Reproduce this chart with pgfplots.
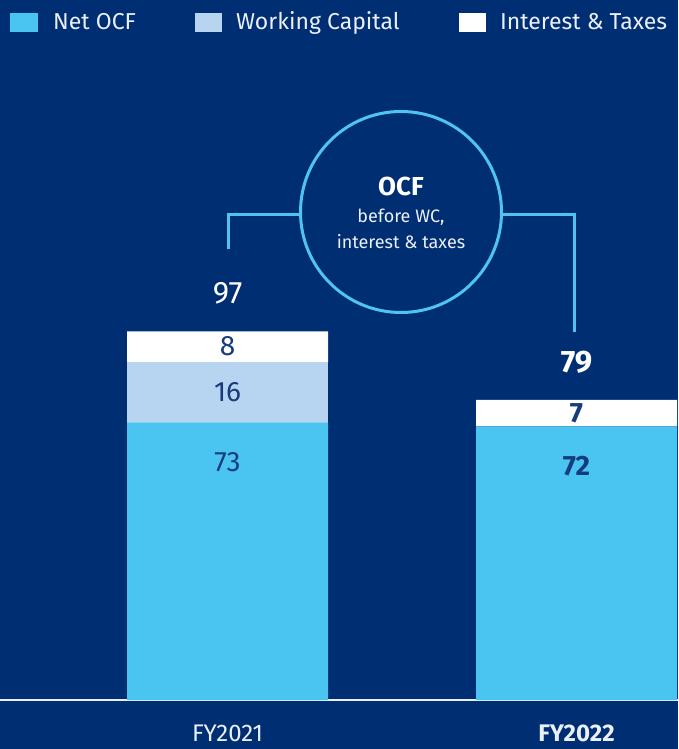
\documentclass[border=0pt]{standalone}
\usepackage{pgfplots}
\pgfplotsset{compat=1.18}
\usepackage{fontspec}
\setmainfont{Fira Sans}

\definecolor{bg}{RGB}{0,46,114}
\definecolor{netocf}{RGB}{74,196,241}
\definecolor{wc}{RGB}{183,213,240}
\definecolor{lab}{RGB}{22,60,125}
\definecolor{circ}{RGB}{80,196,240}
\definecolor{textwhite}{RGB}{235,240,248}

\newcommand\fs[1]{\fontsize{#1}{#1}\selectfont}
\protected\def\B#1{{\bfseries #1}}

\begin{document}
\begin{tikzpicture}[x=1pt,y=1pt]
\fill[bg] (0,-49) rectangle (678,700);
\path[use as bounding box] (0,-49) rectangle (678,700);

\begin{axis}[
    at={(0,0)}, anchor=south west,
    scale only axis, width=678pt, height=700pt,
    ybar stacked, bar width=0.576,
    xmin=-0.652, xmax=1.2908,
    ymin=0, ymax=184.21,
    axis x line=bottom, axis y line=none,
    x axis line style={-, draw=textwhite, line width=2pt},
    xtick={0,1}, xticklabels={FY2021,\textbf{FY2022}},
    major tick length=0pt,
    xticklabel style={anchor=base, inner sep=0pt, yshift=-41pt, font=\fs{24}, text=textwhite},
    point meta=explicit symbolic,
    visualization depends on=rawy \as \rawy,
    nodes near coords={\pgfplotspointmeta},
    every node near coord/.append style={anchor=center, font=\fs{28}, text=lab},
]
% Net OCF
\addplot[fill=netocf, draw=none,
    every node near coord/.append style={yshift={\rawy*1.9pt-40pt}}]
    coordinates {(0,73) [73] (1,72) [\B{72}]};
% Working Capital
\addplot[fill=wc, draw=none]
    coordinates {(0,16) [16] (1,0) [\relax]};
% Interest & Taxes
\addplot[fill=white, draw=none]
    coordinates {(0,8) [8] (1,7) [\B{7}]};
% totals
\addplot[fill=none, draw=none,
    every node near coord/.append style={yshift=38pt, text=white, font=\fs{31}}]
    coordinates {(0,0.001) [97] (1,0.001) [\B{79}]};
\end{axis}

% legend
\fill[netocf] (10,668) rectangle (38,687);
\node[anchor=base west, inner sep=0, text=textwhite, font=\fs{23}] at (53,670.3) {Net OCF};
\fill[wc] (195,668) rectangle (222,687);
\node[anchor=base west, inner sep=0, text=textwhite, font=\fs{23}] at (236,670.3) {Working Capital};
\fill[white] (459,668) rectangle (486,687);
\node[anchor=base west, inner sep=0, text=textwhite, font=\fs{23}] at (500,670.3) {Interest \& Taxes};

% OCF circle and brackets
\draw[circ, line width=3pt] (401,488) circle (100.5);
\draw[circ, line width=3pt] (228,451) -- (228,485) -- (300.5,485);
\draw[circ, line width=3pt] (501.5,485) -- (574,485) -- (574,368);
\node[anchor=base, inner sep=0, text=white, font=\fs{26}\bfseries] at (401,504) {OCF};
\node[anchor=base, inner sep=0, text=textwhite, font=\fs{18}] at (401,477) {before WC,};
\node[anchor=base, inner sep=0, text=textwhite, font=\fs{18}] at (401,451) {interest \& taxes};
\end{tikzpicture}
\end{document}
